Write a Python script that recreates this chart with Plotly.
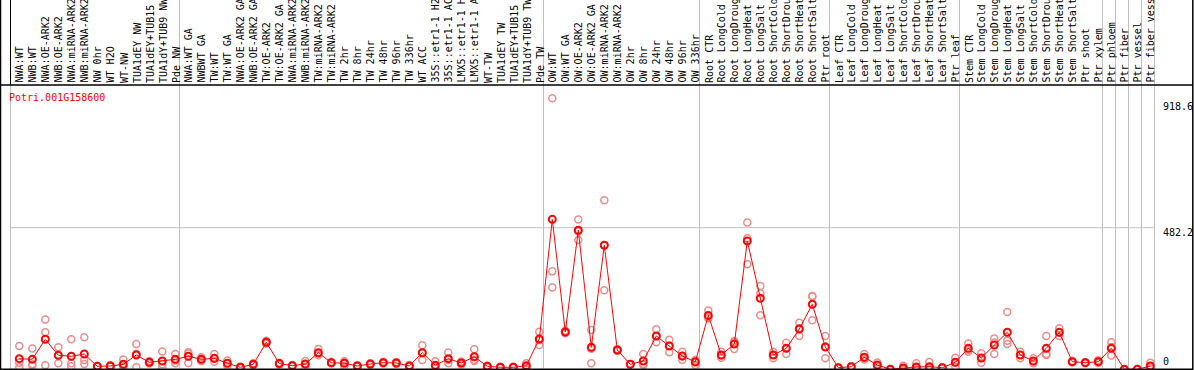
import plotly.graph_objects as go

gene = "Potri.001G158600"

categories = [
    "NWA:WT", "NWB:WT", "NWA:OE-ARK2", "NWB:OE-ARK2", "NWA:miRNA-ARK2", "NWB:miRNA-ARK2",
    "NW 0hr", "WT H2O", "WT-NW", "TUA1dEY NW", "TUA1dEY+TUB15 NW", "TUA1dY+TUB9 NW", "Pde NW",
    "NWA:WT GA", "NWBWT GA", "TW:WT", "TW:WT GA", "NWA:OE-ARK2 GA", "NWB:OE-ARK2 GA",
    "TW:OE-ARK2", "TW:OE-ARK2 GA", "NWA:miRNA-ARK2", "NWB:miRNA-ARK2", "TW:miRNA-ARK2",
    "TW:miRNA-ARK2", "TW 2hr", "TW 8hr", "TW 24hr", "TW 48hr", "TW 96hr", "TW 336hr", "WT ACC",
    "35S::etr1-1 H2O", "35S::etr1-1 ACC", "LMX5::etr1-1 H2O", "LMX5::etr1-1 ACC", "WT-TW",
    "TUA1dEY TW", "TUA1dEY+TUB15 TW", "TUA1dY+TUB9 TW", "Pde TW",
    "OW:WT", "OW:WT GA", "OW:OE-ARK2", "OW:OE-ARK2 GA", "OW:miRNA-ARK2", "OW:miRNA-ARK2",
    "OW 2hr", "OW 8hr", "OW 24hr", "OW 48hr", "OW 96hr", "OW 336hr",
    "Root CTR", "Root LongCold", "Root LongDrought", "Root LongHeat", "Root LongSalt",
    "Root ShortCold", "Root ShortDrought", "Root ShortHeat", "Root ShortSalt", "Ptr root",
    "Leaf CTR", "Leaf LongCold", "Leaf LongDrought", "Leaf LongHeat", "Leaf LongSalt",
    "Leaf ShortCold", "Leaf ShortDrought", "Leaf ShortHeat", "Leaf ShortSalt", "Ptr leaf",
    "Stem CTR", "Stem LongCold", "Stem LongDrought", "Stem LongHeat", "Stem LongSalt",
    "Stem ShortCold", "Stem ShortDrought", "Stem ShortHeat", "Stem ShortSalt",
    "Ptr shoot", "Ptr xylem", "Ptr phloem", "Ptr fiber", "Ptr vessel", "Ptr fiber vessel",
]

mean_values = [
    40.5, 38.4, 105.9, 51.9, 48.6, 56.3, 14.8, 15.9, 21.6, 53.0, 28.3, 32.7, 38.4,
    48.6, 38.4, 41.8, 25.0, 11.5, 21.6, 95.8, 24.0, 16.9, 22.6, 60.7, 27.0, 25.0, 15.9,
    22.6, 27.0, 26.0, 15.9, 60.7, 18.2, 40.5, 26.0, 47.2, 14.8, 11.5, 11.5, 16.9, 107.0,
    510.4, 130.5, 473.6, 78.9, 423.0, 69.8, 21.6, 32.7, 117.0, 83.3, 49.6, 29.3,
    186.5, 53.0, 90.0, 437.4, 244.2, 53.0, 75.5, 140.6, 224.0, 79.9,
    10.1, 13.5, 45.2, 19.2, 4.7, 9.1, 12.5, 13.5, 10.1, 28.3,
    75.5, 42.8, 86.7, 129.5, 53.0, 32.7, 75.5, 129.5, 30.4,
    27.0, 30.4, 75.5, 4.7, 4.7, 15.9,
]

rep1 = [
    83, 75, 173, 79, 106, 113, 16, 18, 38, 90, 33, 65, 56,
    62, 45, 56, 34, 13, 25, 101, 27, 19, 33, 73, 30, 32, 18,
    25, 30, 29, 18, 86, 32, 61, 31, 72, 17, 13, 13, 25, 131,
    918.6, 135, 510, 137, 575, 72, 23, 56, 140, 104, 64, 36,
    203, 64, 100, 500, 286, 64, 94, 162, 252, 117,
    11, 15, 56, 28, 6, 17, 25, 29, 12, 44,
    92, 59, 109, 198, 64, 42, 117, 143, 33,
    29, 35, 96, 6, 6, 27,
]
rep2 = [
    27, 22, 130, 52, 25, 36, 15, 16, 16, 57, 28, 22, 34,
    58, 38, 40, 24, 12, 22, 95, 24, 17, 22, 58, 27, 27, 16,
    23, 27, 26, 16, 60, 14, 36, 26, 37, 15, 12, 12, 15, 103,
    335, 130, 470, 74, 423, 70, 22, 23, 116, 84, 49, 33,
    180, 51, 97, 447, 261, 53, 76, 143, 250, 81,
    10, 14, 41, 17, 5, 7, 9, 8, 10, 28,
    70, 43, 95, 101, 53, 31, 56, 128, 30,
    27, 30, 80, 5, 5, 12,
]
rep3 = [
    11.5, 18, 18, 25, 15, 22.6, 13, 14, 11, 12, 24, 11.5, 25,
    26, 32, 30, 17, 10, 18, 91, 20, 15, 13, 52, 24, 16, 14,
    20, 24, 23, 14, 36, 9, 25, 21, 33, 12, 10, 10, 11, 87,
    281, 126, 441, 25, 271, 67, 20, 19, 96, 62, 36, 19,
    177, 44, 73, 359, 187, 42, 56, 117, 170, 42,
    9, 12, 38, 13, 3, 3, 4, 4, 8, 13,
    64, 27, 56, 90, 42, 25, 53, 117, 28,
    25, 26, 51, 3, 3, 9,
]

group_starts = [0, 13, 41, 53, 63, 73, 84, 85, 86, 87, 88]
y_tick_values = [918.6, 482.2, 0]
y_tick_labels = ["918.6", "482.2", "0"]

W, H = 1194, 370
FONT = "DejaVu Sans Mono"
# pixel geometry (full-figure plot area)
x0_px, x_step = 19.3, 13.0
y0_px, y_scale = 370.7, 0.2965
header_px = 85

xr = [(0 - x0_px) / x_step, (W - x0_px) / x_step]
yr = [(y0_px - H) / y_scale, y0_px / y_scale]
sep_off = (x0_px - 10.5) / x_step

xs = list(range(len(categories)))

fig = go.Figure()
rx, ry = [], []
for reps in (rep1, rep2, rep3):
    rx += xs
    ry += reps
fig.add_trace(go.Scatter(
    x=rx, y=ry, mode="markers",
    marker=dict(symbol="circle-open", size=7, color="rgb(236,140,140)",
                line=dict(width=1.5, color="rgb(236,140,140)")),
    hoverinfo="skip", showlegend=False,
))
fig.add_trace(go.Scatter(
    x=xs, y=mean_values, mode="lines+markers",
    line=dict(color="#FF0000", width=1),
    marker=dict(symbol="circle-open", size=7, color="#FF0000",
                line=dict(width=2, color="#FF0000")),
    showlegend=False,
))

shapes = []
hdr_paper = 1 - header_px / H
for k, b in enumerate(group_starts):
    xv = b - sep_off
    shapes.append(dict(type="line", xref="x", yref="paper", x0=xv, x1=xv,
                       y0=0, y1=hdr_paper if k == 0 else 1,
                       line=dict(color="#C0C0C0", width=1), layer="below"))
shapes.append(dict(type="line", xref="x", yref="paper", x0=-sep_off, x1=-sep_off,
                   y0=hdr_paper, y1=1, line=dict(color="black", width=1), layer="below"))
# horizontal grid line
shapes.append(dict(type="line", xref="x", yref="y", x0=group_starts[0] - sep_off,
                   x1=group_starts[-1] - sep_off, y0=y_tick_values[1], y1=y_tick_values[1],
                   line=dict(color="#C0C0C0", width=1), layer="below"))
# header line and frame
shapes.append(dict(type="line", xref="paper", yref="paper", x0=0, x1=1193 / W,
                   y0=hdr_paper, y1=hdr_paper, line=dict(color="black", width=1.5)))
shapes.append(dict(type="line", xref="paper", yref="paper", x0=0.5 / W, x1=0.5 / W,
                   y0=0, y1=1, line=dict(color="black", width=1.5)))
shapes.append(dict(type="line", xref="paper", yref="paper", x0=1192.8 / W, x1=1192.8 / W,
                   y0=0, y1=1, line=dict(color="black", width=1.5)))
shapes.append(dict(type="line", xref="paper", yref="paper", x0=0, x1=1193 / W,
                   y0=0.8 / H, y1=0.8 / H, line=dict(color="black", width=1.5)))

annotations = []
for i, c in enumerate(categories):
    annotations.append(dict(
        x=i + 0.05, xref="x", y=1 - (header_px - 0.5) / H, yref="paper",
        text=c, textangle=-90, xanchor="center", yanchor="bottom", showarrow=False,
        font=dict(family=FONT, size=10, color="black"),
    ))
label_centers_px = [106.7, 232.3, 361.7]
for v, t, cy in zip(y_tick_values, y_tick_labels, label_centers_px):
    annotations.append(dict(
        x=1161 / W, xref="paper", y=1 - cy / H, yref="paper", text=t,
        xanchor="left", yanchor="middle", showarrow=False,
        font=dict(family=FONT, size=10, color="black"),
    ))
annotations.append(dict(
    x=7 / W, xref="paper", y=1 - 97 / H, yref="paper", text=gene,
    xanchor="left", yanchor="middle", showarrow=False,
    font=dict(family=FONT, size=10, color="#FF0000"),
))

fig.update_layout(
    width=W, height=H, margin=dict(l=0, r=0, t=0, b=0, pad=0),
    paper_bgcolor="white", plot_bgcolor="white",
    xaxis=dict(range=xr, visible=False, fixedrange=True),
    yaxis=dict(range=yr, visible=False, fixedrange=True),
    shapes=shapes, annotations=annotations, showlegend=False,
)
fig.write_html(
    "out.html",
    config={"displayModeBar": False},
    post_script="document.body.style.margin='0';document.body.style.overflow='hidden';",
)
